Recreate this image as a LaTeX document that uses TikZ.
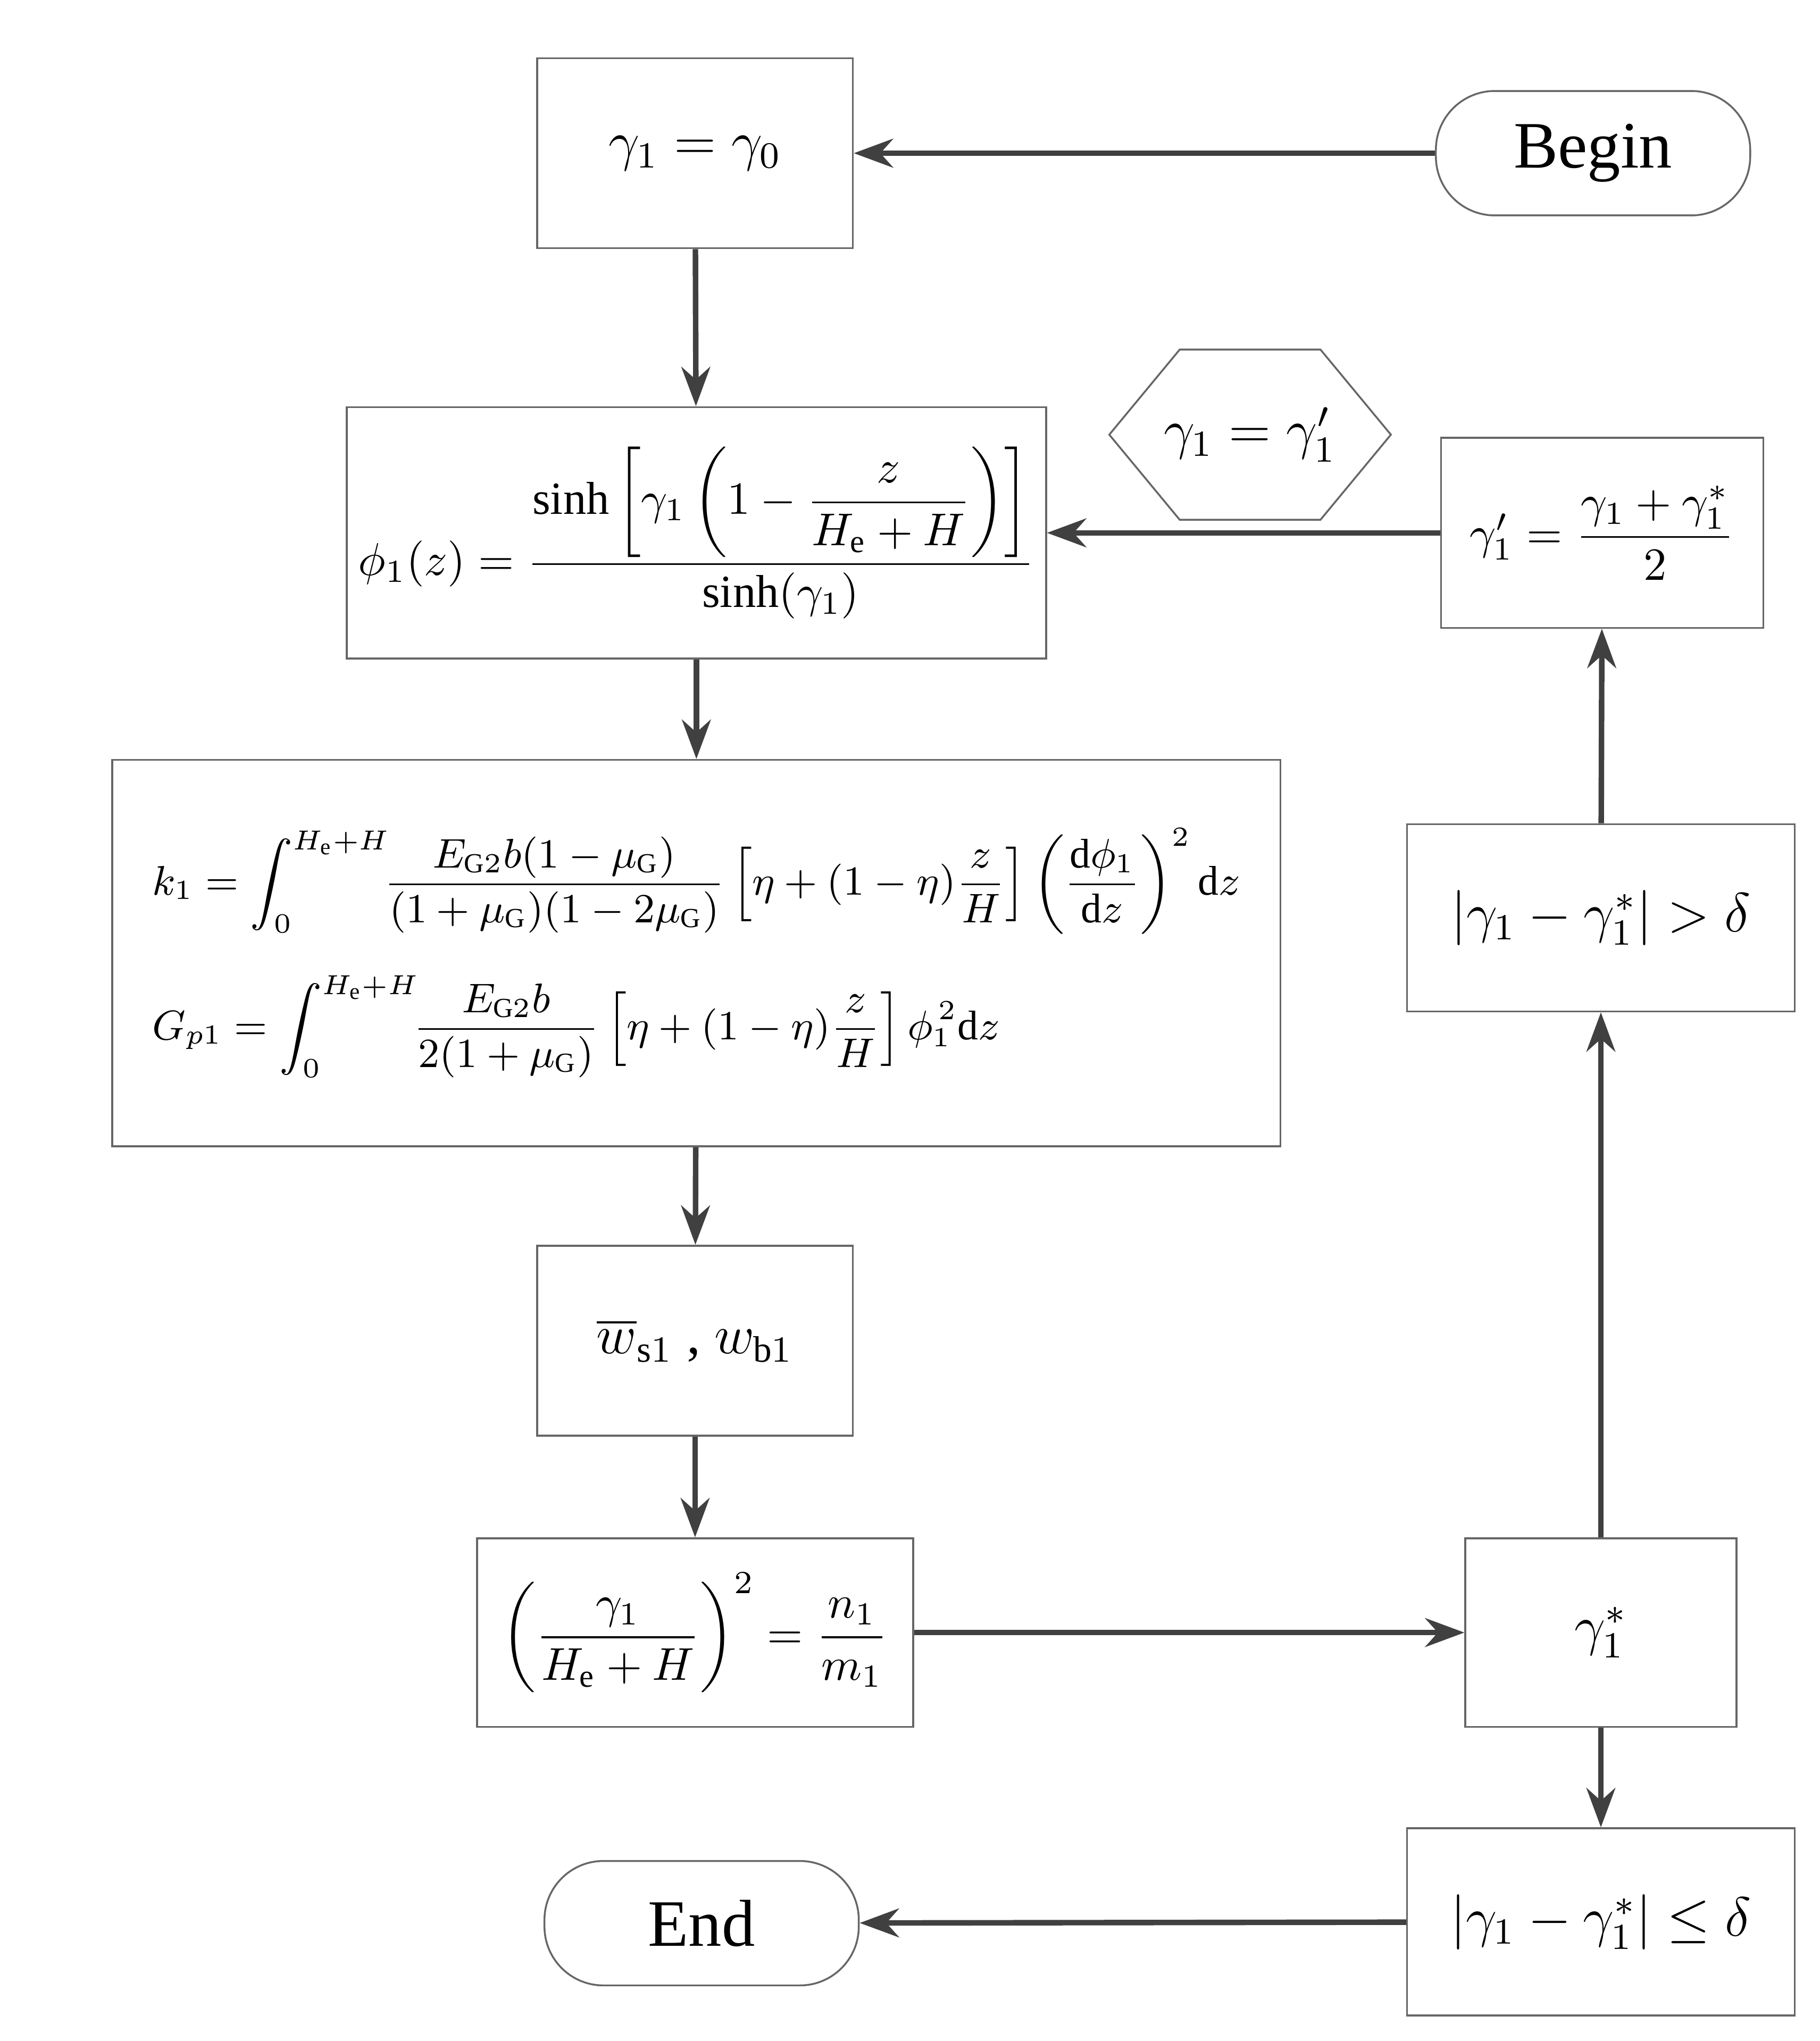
\documentclass[tikz,border=0pt]{standalone}
\usepackage{amsmath}
\usepackage{fontspec}
\setmainfont{Liberation Serif}
\usetikzlibrary{shapes.geometric, arrows.meta, positioning}

\begin{document}
\begin{tikzpicture}[
    x=0.01cm, y=-0.01cm,
    box/.style={rectangle, draw=black!60, font=\large, inner sep=2pt},
    term/.style={rectangle, rounded corners=0.45cm, draw=black!60, minimum width=2.4cm, minimum height=0.95cm, font=\Large},
    flow/.style={-{Stealth[length=0.3cm, width=0.22cm]}, line width=1.2pt, draw=black!75}
]
    \useasboundingbox (0,0) rectangle (1390,1559);

    % terminals
    \node[term] (begin) at (1217,117) {Begin};
    \node[term] (end) at (536,1469) {End};

    % left column
    \node[box, minimum width=2.41cm, minimum height=1.45cm] (init) at (531,117) {$\gamma_1=\gamma_0$};
    \node[box, minimum width=5.34cm, minimum height=1.92cm, font=\normalsize] (phi) at (532,407)
        {$\phi_1(z)=\dfrac{\sinh\left[\gamma_1\left(1-\dfrac{z}{H_\mathrm{e}+H}\right)\right]}{\sinh(\gamma_1)}$};
    \node[box, minimum width=8.92cm, minimum height=2.95cm, align=left, font=\small] (stiff) at (532,728)
        {$k_1=\displaystyle\int_0^{H_\mathrm{e}+H}\!\!\frac{E_{\mathrm{G}2}b(1-\mu_\mathrm{G})}{(1+\mu_\mathrm{G})(1-2\mu_\mathrm{G})}\left[\eta+(1-\eta)\frac{z}{H}\right]\left(\frac{\mathrm{d}\phi_1}{\mathrm{d}z}\right)^2\mathrm{d}z$\\[8pt]
         $G_{p1}=\displaystyle\int_0^{H_\mathrm{e}+H}\!\!\frac{E_{\mathrm{G}2}b}{2(1+\mu_\mathrm{G})}\left[\eta+(1-\eta)\frac{z}{H}\right]\phi_1^{\,2}\mathrm{d}z$};
    \node[box, minimum width=2.41cm, minimum height=1.45cm] (defl) at (531,1024) {$\overline{w}_{\mathrm{s}1}$ , $w_{\mathrm{b}1}$};
    \node[box, minimum width=3.33cm, minimum height=1.44cm, font=\normalsize] (freq) at (531,1247)
        {$\left(\dfrac{\gamma_1}{H_\mathrm{e}+H}\right)^2=\dfrac{n_1}{m_1}$};

    % right column
    \node[box, minimum width=2.07cm, minimum height=1.44cm] (root) at (1223,1247) {$\gamma_1^{*}$};
    \node[box, minimum width=2.96cm, minimum height=1.43cm] (stop) at (1223,1468) {$\left|\gamma_1-\gamma_1^{*}\right|\le\delta$};
    \node[box, minimum width=2.96cm, minimum height=1.43cm] (cont) at (1223,701) {$\left|\gamma_1-\gamma_1^{*}\right|>\delta$};
    \node[box, minimum width=2.46cm, minimum height=1.45cm, font=\normalsize] (avg) at (1224,407) {$\gamma_1'=\dfrac{\gamma_1+\gamma_1^{*}}{2}$};
    \node[regular polygon, regular polygon sides=6, draw=black!60, minimum size=2.5cm,
          xscale=0.86, yscale=0.6] (upd) at (955,332) {};
    \node[font=\large] at (upd) {$\gamma_1=\gamma_1'$};

    \draw[flow] (begin) -- (init);
    \draw[flow] (init) -- (phi);
    \draw[flow] (phi) -- (stiff);
    \draw[flow] (stiff) -- (defl);
    \draw[flow] (defl) -- (freq);
    \draw[flow] (freq) -- (root);
    \draw[flow] (root) -- (stop);
    \draw[flow] (stop) -- (end);
    \draw[flow] (root) -- (cont);
    \draw[flow] (cont) -- (avg);
    \draw[flow] (avg) -- (phi);
\end{tikzpicture}
\end{document}
